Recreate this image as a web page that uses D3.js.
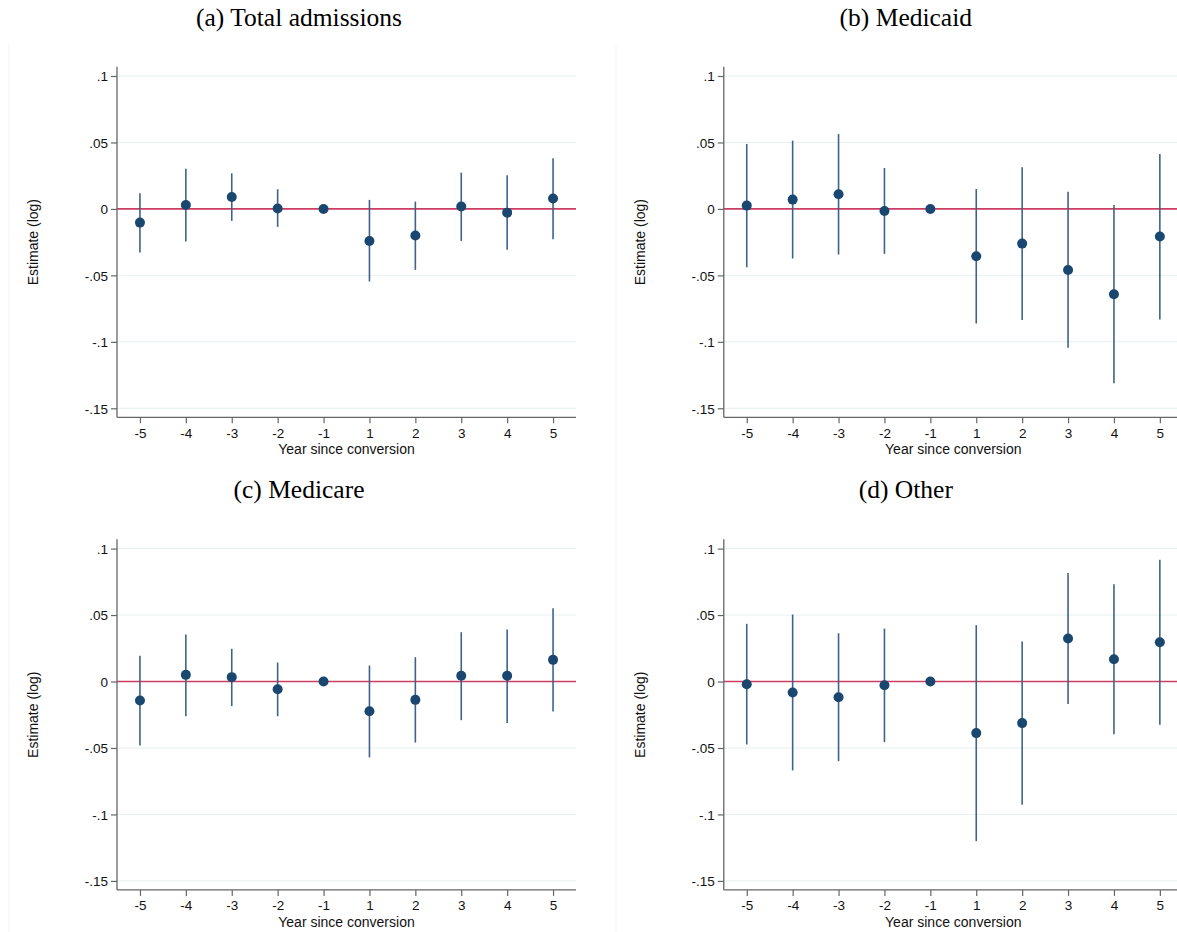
<!DOCTYPE html>
<html>
<head>
<meta charset="utf-8">
<script src="https://cdn.jsdelivr.net/npm/d3@7"></script>
<style>
  body { margin: 0; background: #fff; }
  svg { display: block; }
  .tick text { font-family: "Liberation Sans", Arial, sans-serif; font-size: 13.5px; fill: #111; }
</style>
</head>
<body>
<svg width="1177" height="932"></svg>
<script>
var svg = d3.select("svg");

// event years (reference year -1 omitted -> 0)
var years = ["-5", "-4", "-3", "-2", "-1", "1", "2", "3", "4", "5"];
var yTicks = [0.1, 0.05, 0, -0.05, -0.1, -0.15];
var yTickLabels = [".1", ".05", "0", "-.05", "-.1", "-.15"];

// (a) Total admissions
var totalEst = [-0.0103, 0.0030, 0.0090, 0.0003, 0, -0.0241, -0.0200, 0.0018, -0.0028, 0.0078];
var totalLo  = [-0.0328, -0.0246, -0.0090, -0.0135, 0, -0.0546, -0.0459, -0.0241, -0.0308, -0.0228];
var totalHi  = [0.0118, 0.0303, 0.0268, 0.0148, 0, 0.0068, 0.0055, 0.0273, 0.0253, 0.0381];

// (b) Medicaid
var medicaidEst = [0.0025, 0.0070, 0.0110, -0.0015, 0, -0.0356, -0.0261, -0.0459, -0.0642, -0.0208];
var medicaidLo  = [-0.0439, -0.0373, -0.0343, -0.0338, 0, -0.0862, -0.0835, -0.1045, -0.1311, -0.0832];
var medicaidHi  = [0.0489, 0.0514, 0.0564, 0.0308, 0, 0.0150, 0.0313, 0.0130, 0.0030, 0.0414];

// (c) Medicare
var medicareEst = [-0.0143, 0.0050, 0.0033, -0.0058, 0, -0.0223, -0.0138, 0.0043, 0.0043, 0.0163];
var medicareLo  = [-0.0481, -0.0261, -0.0185, -0.0261, 0, -0.0571, -0.0459, -0.0291, -0.0313, -0.0226];
var medicareHi  = [0.0193, 0.0353, 0.0246, 0.0143, 0, 0.0120, 0.0183, 0.0371, 0.0391, 0.0551];

// (d) Other
var otherEst = [-0.0020, -0.0083, -0.0118, -0.0028, 0, -0.0388, -0.0313, 0.0323, 0.0168, 0.0296];
var otherLo  = [-0.0474, -0.0669, -0.0599, -0.0456, 0, -0.1201, -0.0927, -0.0170, -0.0396, -0.0326];
var otherHi  = [0.0434, 0.0504, 0.0363, 0.0398, 0, 0.0424, 0.0301, 0.0817, 0.0732, 0.0917];

var panels = [
  { title: "(a) Total admissions", est: totalEst, lo: totalLo, hi: totalHi, left: 117, top: 66.7 },
  { title: "(b) Medicaid", est: medicaidEst, lo: medicaidLo, hi: medicaidHi, left: 723.8, top: 66.7 },
  { title: "(c) Medicare", est: medicareEst, lo: medicareLo, hi: medicareHi, left: 117, top: 539.3 },
  { title: "(d) Other", est: otherEst, lo: otherLo, hi: otherHi, left: 723.8, top: 539.3 }
];

var pw = 459, ph = 350.6;

var x = d3.scalePoint().domain(years).range([0, pw]).padding(0.5);
var y = d3.scaleLinear().domain([-0.15, 0.1]).range([ph - 9, 9.3]);

function fmt(d, i) { return yTickLabels[i]; }

// faint borders of the sub-figures
[9, 616].forEach(function(xx) {
  svg.append("line")
    .attr("x1", xx).attr("x2", xx).attr("y1", 44).attr("y2", 932)
    .attr("stroke", "#f3f3f3").attr("stroke-width", 1);
});

panels.forEach(function(p) {
  var g = svg.append("g").attr("transform", "translate(" + p.left + "," + p.top + ")");

  // grid lines
  g.append("g").selectAll("line")
    .data(yTicks.filter(function(d) { return d !== 0; }))
    .enter().append("line")
    .attr("x1", 0).attr("x2", pw)
    .attr("y1", function(d) { return y(d); })
    .attr("y2", function(d) { return y(d); })
    .attr("stroke", "#e6eff1")
    .attr("stroke-width", 1);

  // zero line
  g.append("line")
    .attr("x1", 0).attr("x2", pw)
    .attr("y1", y(0)).attr("y2", y(0))
    .attr("stroke", "#cc3d62")
    .attr("stroke-width", 1.7);

  // axes
  var yAxis = g.append("g")
    .call(d3.axisLeft(y).tickValues(yTicks).tickFormat(fmt).tickSize(6).tickPadding(3));
  yAxis.select(".domain").attr("d", "M0,0V" + ph);
  var xAxis = g.append("g")
    .attr("transform", "translate(0," + ph + ")")
    .call(d3.axisBottom(x).tickSize(6).tickPadding(5));
  xAxis.select(".domain").attr("d", "M0,0H" + pw);
  g.selectAll(".domain").attr("stroke", "#666").attr("stroke-width", 1.3);
  g.selectAll(".tick line").attr("stroke", "#666").attr("stroke-width", 1.2);
  yAxis.selectAll(".tick text").attr("dy", "0.36em");

  // confidence intervals
  var rows = years.map(function(yr, i) { return { yr: yr, est: p.est[i], lo: p.lo[i], hi: p.hi[i] }; });
  g.append("g").selectAll("line")
    .data(rows.filter(function(d) { return d.hi !== d.lo; }))
    .enter().append("line")
    .attr("x1", function(d) { return x(d.yr); })
    .attr("x2", function(d) { return x(d.yr); })
    .attr("y1", function(d) { return y(d.lo); })
    .attr("y2", function(d) { return y(d.hi); })
    .attr("stroke", "#3f6388")
    .attr("stroke-width", 1.6);

  // point estimates
  g.append("g").selectAll("circle")
    .data(rows)
    .enter().append("circle")
    .attr("cx", function(d) { return x(d.yr); })
    .attr("cy", function(d) { return y(d.est); })
    .attr("r", 5)
    .attr("fill", "#1a476f");

  // titles
  g.append("text")
    .attr("x", 182).attr("y", -41)
    .attr("text-anchor", "middle")
    .attr("font-family", "Liberation Serif, Times New Roman, serif")
    .attr("font-size", 25.5)
    .attr("fill", "#000")
    .text(p.title);

  g.append("text")
    .attr("x", pw / 2).attr("y", ph + 37)
    .attr("text-anchor", "middle")
    .attr("font-family", "Liberation Sans, Arial, sans-serif")
    .attr("font-size", 14)
    .attr("fill", "#111")
    .text("Year since conversion");

  g.append("text")
    .attr("transform", "translate(-84," + ((y(0.1) + y(-0.15)) / 2) + ") rotate(-90)")
    .attr("text-anchor", "middle")
    .attr("dy", "0.35em")
    .attr("font-family", "Liberation Sans, Arial, sans-serif")
    .attr("font-size", 14)
    .attr("fill", "#111")
    .text("Estimate (log)");
});
</script>
</body>
</html>
